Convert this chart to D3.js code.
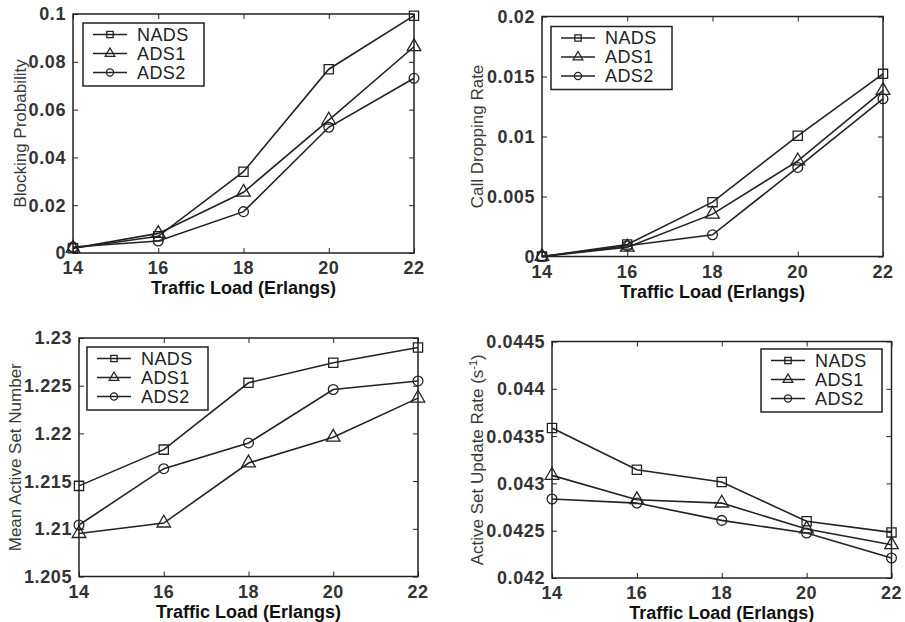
<!DOCTYPE html>
<html><head><meta charset="utf-8">
<script src="https://cdn.jsdelivr.net/npm/d3@7"></script>
<style>
body{margin:0;background:#fff;}
svg{display:block;font-family:Arial,"Liberation Sans",sans-serif;}
</style></head><body>
<svg id="c" width="905" height="622"></svg>
<script>
const traffic = [14, 16, 18, 20, 22];
const seriesNames = ["NADS", "ADS1", "ADS2"];
const xTicks = [14, 16, 18, 20, 22];

const blockNADS = [0.002, 0.007, 0.034, 0.0769, 0.0993];
const blockADS1 = [0.002, 0.0082, 0.0254, 0.0556, 0.0863];
const blockADS2 = [0.0025, 0.005, 0.0173, 0.0526, 0.0731];
const blockTicks = [0, 0.02, 0.04, 0.06, 0.08, 0.1];
const blockTickLabels = ["0", "0.02", "0.04", "0.06", "0.08", "0.1"];

const dropNADS = [0, 0.001, 0.00453, 0.01006, 0.01522];
const dropADS1 = [0, 0.00078, 0.00353, 0.00797, 0.01383];
const dropADS2 = [0, 0.0009, 0.00181, 0.00742, 0.01314];
const dropTicks = [0, 0.005, 0.01, 0.015, 0.02];
const dropTickLabels = ["0", "0.005", "0.01", "0.015", "0.02"];

const asnNADS = [1.2145, 1.2183, 1.2253, 1.2274, 1.2290];
const asnADS1 = [1.2095, 1.2106, 1.2169, 1.2196, 1.2237];
const asnADS2 = [1.2104, 1.2163, 1.2190, 1.2246, 1.2255];
const asnTicks = [1.205, 1.21, 1.215, 1.22, 1.225, 1.23];
const asnTickLabels = ["1.205", "1.21", "1.215", "1.22", "1.225", "1.23"];

const updNADS = [0.043585, 0.043144, 0.043014, 0.042599, 0.042482];
const updADS1 = [0.043085, 0.042827, 0.042792, 0.042518, 0.042352];
const updADS2 = [0.042835, 0.042792, 0.042609, 0.042475, 0.042211];
const updTicks = [0.042, 0.0425, 0.043, 0.0435, 0.044, 0.0445];
const updTickLabels = ["0.042", "0.0425", "0.043", "0.0435", "0.044", "0.0445"];

const svg = d3.select("#c");
const INK = "#222";
const symbols = [d3.symbolSquare, d3.symbolTriangle, d3.symbolCircle];

function marker(g, i, cx, cy, size) {
  g.append("path")
    .attr("d", d3.symbol().type(symbols[i]).size(size)())
    .attr("transform", `translate(${cx},${cy})`)
    .attr("fill", "none").attr("stroke", INK).attr("stroke-width", 1.3);
}

function panel(cfg) {
  const {left, top, right, bottom, yDomain, yTicks, yLabels, series, yTitle, legend} = cfg;
  const x = d3.scaleLinear().domain([14, 22]).range([left, right]);
  const y = d3.scaleLinear().domain(yDomain).range([bottom, top]);
  const g = svg.append("g");

  const tl = 5;
  const axL = d3.axisRight(y).tickValues(yTicks).tickSize(tl).tickFormat("");
  const axR = d3.axisLeft(y).tickValues(yTicks).tickSize(tl).tickFormat("");
  const axB = d3.axisTop(x).tickValues(xTicks).tickSize(tl).tickFormat("");
  const axT = d3.axisBottom(x).tickValues(xTicks).tickSize(tl).tickFormat("");
  [[axL, `translate(${left},0)`], [axR, `translate(${right},0)`],
   [axB, `translate(0,${bottom})`], [axT, `translate(0,${top})`]].forEach(([ax, tr]) => {
    const a = g.append("g").attr("transform", tr).call(ax);
    a.select(".domain").remove();
    a.selectAll("line").attr("stroke", INK).attr("stroke-width", 1);
  });
  g.append("rect").attr("x", left).attr("y", top)
    .attr("width", right - left).attr("height", bottom - top)
    .attr("fill", "none").attr("stroke", INK).attr("stroke-width", 1.5);

  g.selectAll(".yl").data(yTicks).enter().append("text")
    .attr("x", left - 7).attr("y", d => y(d)).attr("dy", "0.36em")
    .attr("text-anchor", "end").attr("font-size", 18).attr("font-weight", "bold")
    .attr("letter-spacing", 0.6).attr("fill", "#333")
    .text((d, i) => yLabels[i]);
  g.selectAll(".xl").data(xTicks).enter().append("text")
    .attr("x", d => x(d)).attr("y", bottom + 15).attr("dy", "0.36em")
    .attr("text-anchor", "middle").attr("font-size", 18).attr("font-weight", "bold")
    .attr("letter-spacing", 0.6).attr("fill", "#333")
    .text(d => d);

  g.append("text").attr("x", (left + right) / 2).attr("y", bottom + 35).attr("dy", "0.36em")
    .attr("text-anchor", "middle").attr("font-size", 18).attr("font-weight", "bold")
    .attr("fill", "#111").text("Traffic Load (Erlangs)");
  const yt = g.append("text")
    .attr("transform", `translate(${cfg.yTitleX},${(top + bottom) / 2}) rotate(-90)`)
    .attr("text-anchor", "middle").attr("dy", "0.36em").attr("font-size", 17)
    .attr("fill", "#3a3a3a");
  yTitle(yt);

  const line = d3.line().x((d, i) => x(traffic[i])).y(d => y(d));
  series.forEach((vals, si) => {
    g.append("path").datum(vals).attr("d", line)
      .attr("fill", "none").attr("stroke", INK).attr("stroke-width", 1.6);
    vals.forEach((v, i) => marker(g, si, x(traffic[i]), y(v), si === 1 ? 80 : (si === 0 ? 85 : 75)));
  });

  const lw = 121, lh = 63;
  const lx = legend.right ? right - legend.dx - lw : left + legend.dx;
  const ly = top + legend.dy;
  const lg = g.append("g");
  lg.append("rect").attr("x", lx).attr("y", ly).attr("width", lw).attr("height", lh)
    .attr("fill", "#fff").attr("stroke", INK).attr("stroke-width", 1.5);
  seriesNames.forEach((n, i) => {
    const ry = ly + 11.5 + i * 19;
    lg.append("line").attr("x1", lx + 10).attr("x2", lx + 44).attr("y1", ry).attr("y2", ry)
      .attr("stroke", INK).attr("stroke-width", 1.5);
    marker(lg, i, lx + 27, ry, 40);
    lg.append("text").attr("x", lx + 54).attr("y", ry).attr("dy", "0.36em")
      .attr("font-size", 18).attr("letter-spacing", 0.4).attr("fill", "#222").text(n);
  });
}

panel({left: 73, top: 14, right: 414, bottom: 253, yDomain: [0, 0.1],
  yTicks: blockTicks, yLabels: blockTickLabels,
  series: [blockNADS, blockADS1, blockADS2], yTitleX: 20,
  yTitle: t => t.text("Blocking Probability"),
  legend: {right: false, dx: 10, dy: 9}});

panel({left: 542, top: 16.5, right: 883, bottom: 256.5, yDomain: [0, 0.02],
  yTicks: dropTicks, yLabels: dropTickLabels,
  series: [dropNADS, dropADS1, dropADS2], yTitleX: 477,
  yTitle: t => t.text("Call Dropping Rate"),
  legend: {right: false, dx: 9, dy: 10}});

panel({left: 79, top: 338, right: 418, bottom: 576.5, yDomain: [1.205, 1.23],
  yTicks: asnTicks, yLabels: asnTickLabels,
  series: [asnNADS, asnADS1, asnADS2], yTitleX: 15,
  yTitle: t => t.text("Mean Active Set Number"),
  legend: {right: false, dx: 8, dy: 9}});

panel({left: 552, top: 341.5, right: 891.5, bottom: 578, yDomain: [0.042, 0.0445],
  yTicks: updTicks, yLabels: updTickLabels,
  series: [updNADS, updADS1, updADS2], yTitleX: 477,
  yTitle: t => {
    t.append("tspan").text("Active Set Update Rate (s");
    t.append("tspan").attr("baseline-shift", "super").attr("font-size", 11).text("-1");
    t.append("tspan").text(")");
  },
  legend: {right: true, dx: 9.5, dy: 7.5}});
</script>
</body></html>
